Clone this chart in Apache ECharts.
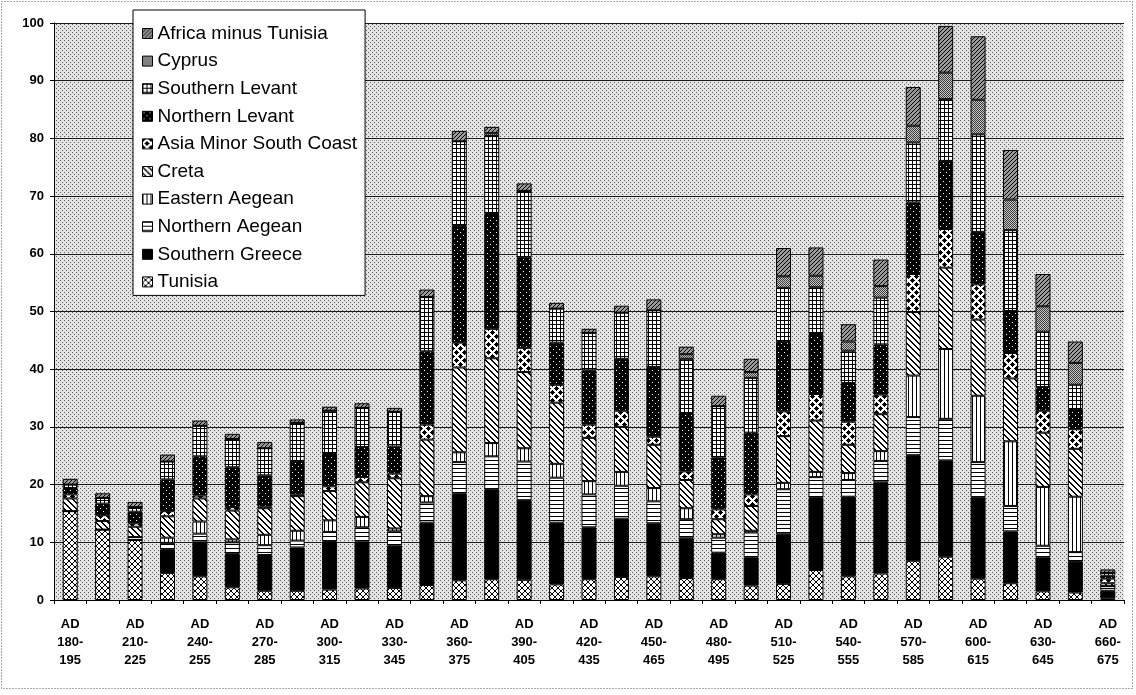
<!DOCTYPE html>
<html><head><meta charset="utf-8">
<script src="https://cdn.jsdelivr.net/npm/echarts/dist/echarts.min.js"></script>
<style>html,body{margin:0;padding:0;background:#fff}#c{width:1136px;height:695px}</style>
</head><body><div id="c"></div>
<script>
const categories = ['AD 180-195','AD 195-210','AD 210-225','AD 225-240','AD 240-255','AD 255-270','AD 270-285','AD 285-300','AD 300-315','AD 315-330','AD 330-345','AD 345-360','AD 360-375','AD 375-390','AD 390-405','AD 405-420','AD 420-435','AD 435-450','AD 450-465','AD 465-480','AD 480-495','AD 495-510','AD 510-525','AD 525-540','AD 540-555','AD 555-570','AD 570-585','AD 585-600','AD 600-615','AD 615-630','AD 630-645','AD 645-660','AD 660-675'];
const yTicks = [0,10,20,30,40,50,60,70,80,90,100];
const tunisia   = [15.4,12.2,10.4,4.7,4.1,2.2,1.6,1.6,1.8,2.0,2.1,2.6,3.4,3.6,3.5,2.7,3.6,4.0,4.1,3.8,3.6,2.5,2.8,5.2,4.1,4.6,6.8,7.5,3.7,2.9,1.5,1.3,0.3];
const southernGreece = [0,0,0,4.1,5.9,5.8,6.2,7.5,8.4,8.1,7.3,10.8,15.0,15.6,13.8,10.7,9.0,10.1,9.2,6.9,4.6,4.9,8.6,12.5,13.8,15.8,18.3,16.7,14.1,9.0,5.9,5.3,1.3];
const northernAegean = [0,0,0.5,1.1,1.5,2.0,1.7,1.2,1.6,2.5,2.5,3.5,5.5,5.7,6.7,7.8,5.7,5.7,3.8,3.3,2.6,4.3,7.8,3.6,2.9,3.7,6.6,7.2,6.1,4.4,2.0,1.7,0.8];
const easternAegean = [0,0,0,0.9,2.1,0.5,1.8,1.7,2.0,1.8,0.5,1.1,1.7,2.3,2.3,2.4,2.3,2.4,2.3,1.9,0.6,0.3,1.1,0.9,1.2,1.7,7.2,12.1,11.5,11.2,10.2,9.6,0];
const creta = [2.2,1.5,1.8,3.7,4.0,5.0,4.6,6.0,5.1,6.0,8.7,9.8,14.7,14.7,13.2,10.6,7.5,7.8,7.5,4.9,2.6,4.3,8.1,8.9,4.9,6.4,11.0,14.1,13.2,10.9,9.4,8.3,0.5];
const asiaMinor = [0.7,1.0,0.6,0.9,0.5,0.6,0.3,0.3,0.8,0.9,0.8,2.6,4.3,5.1,4.2,3.1,2.3,2.8,1.4,1.5,1.7,2.0,4.3,4.6,4.0,3.4,6.6,6.7,6.1,4.4,3.8,3.4,0.8];
const northernLevant = [1.1,2.0,2.0,5.5,6.8,6.9,5.4,5.8,5.6,5.2,4.7,12.7,20.2,19.9,15.7,7.3,9.4,9.0,12.1,10.1,9.0,10.7,12.0,10.4,6.7,8.7,12.4,11.8,9.1,7.3,4.1,3.5,0.5];
const southernLevant = [0.6,1.0,0.8,3.1,5.3,4.9,4.7,6.6,7.5,6.8,6.0,9.4,14.7,13.5,11.5,5.9,6.5,8.0,9.8,9.4,8.9,9.5,9.4,8.1,5.6,8.1,10.4,10.7,16.9,14.0,9.6,4.2,0.5];
const cyprus = [0,0,0,0,0,0,0,0,0,0,0,0,0,0.5,0,0,0,0,0,0.8,0,1.0,2.0,2.0,1.6,2.0,2.9,4.6,6.0,5.3,4.4,3.8,0];
const africaMinusTunisia = [1.0,0.8,0.9,1.2,0.9,0.9,1.1,0.6,0.7,0.8,0.7,1.3,1.8,1.1,1.3,1.0,0.7,1.2,1.9,1.3,1.8,2.3,4.9,4.9,3.0,4.6,6.7,8.1,11.0,8.6,5.6,3.7,0.6];

function pat(w, h, bg, fg, pts) {
  const c = document.createElement('canvas'); c.width = w; c.height = h;
  const g = c.getContext('2d');
  g.fillStyle = bg; g.fillRect(0, 0, w, h);
  g.fillStyle = fg;
  pts.forEach(p => g.fillRect(p[0], p[1], 1, 1));
  return { image: c, repeat: 'repeat' };
}
function range(n){ return Array.from({length:n}, (_, i) => i); }
const P = {
  tunisia: pat(6,6,'#fff','#000', range(6).flatMap(i => [[i,i],[i,5-i]])),
  sg: '#000',
  na: pat(4,4,'#fff','#000', range(4).map(i => [i,0])),
  ea: pat(4,4,'#fff','#000', range(4).map(i => [0,i])),
  creta: pat(6,6,'#fff','#000', range(6).flatMap(i => [[i,i],[i,(i+1)%6]])),
  amsc: pat(8,8,'#fff','#000', [[4,2],[3,3],[4,3],[5,3],[2,4],[3,4],[4,4],[5,4],[6,4],[3,5],[4,5],[5,5],[4,6],
        [0,6],[7,7],[0,7],[1,7],[6,0],[7,0],[0,0],[1,0],[2,0],[7,1],[0,1],[1,1],[0,2]]),
  nl: pat(6,6,'#000','#fff', [[1,1],[4,4]]),
  sl: pat(4,4,'#fff','#000', [[0,0],[1,0],[2,0],[3,0],[0,1],[0,2],[0,3]]),
  cyprus: pat(2,2,'#c8c8c8','#3a3a3a', [[0,0],[1,1]]),
  africa: pat(4,4,'#9a9a9a','#000', range(4).map(i => [i,3-i]))
};
const bgPat = pat(4,4,'#e4e4e4','#5a5a5a', [[0,0],[2,2]]);

const seriesDefs = [
  ['Tunisia', tunisia, P.tunisia],
  ['Southern Greece', southernGreece, P.sg],
  ['Northern Aegean', northernAegean, P.na],
  ['Eastern Aegean', easternAegean, P.ea],
  ['Creta', creta, P.creta],
  ['Asia Minor South Coast', asiaMinor, P.amsc],
  ['Northern Levant', northernLevant, P.nl],
  ['Southern Levant', southernLevant, P.sl],
  ['Cyprus', cyprus, P.cyprus],
  ['Africa minus Tunisia', africaMinusTunisia, P.africa]
];

const chart = echarts.init(document.getElementById('c'), null, {renderer: 'canvas'});
const font = '"Liberation Sans", Arial, sans-serif';
chart.setOption({
  animation: false,
  backgroundColor: '#fff',
  textStyle: { fontFamily: font },
  grid: { left: 54, right: 12, top: 23, bottom: 95, show: true, backgroundColor: bgPat, borderWidth: 0, containLabel: false, outerBoundsMode: 'none' },
  legend: {
    orient: 'vertical', left: 133, top: 10,
    data: seriesDefs.map(d => d[0]).slice().reverse(),
    backgroundColor: '#fff', borderColor: '#000', borderWidth: 1,
    padding: [14, 8, 4, 9], itemGap: 8.6, itemWidth: 10, itemHeight: 10,
    icon: 'rect', selectedMode: false,
    textStyle: { fontSize: 19, lineHeight: 17.5, color: '#000', fontFamily: font, padding: [0,0,0,0] },
    itemStyle: { borderColor: '#000', borderWidth: 1 }
  },
  xAxis: {
    type: 'category', data: categories,
    axisLine: { lineStyle: { color: '#000', width: 1 } },
    axisTick: { show: true, interval: 0, length: 4, lineStyle: { color: '#000' } },
    axisLabel: {
      interval: 1, color: '#000', fontWeight: 'bold', fontSize: 13, lineHeight: 18, margin: 15,
      fontFamily: font,
      formatter: v => v.replace(' ', '\n').replace('-', '-\n')
    },
    splitLine: { show: false }
  },
  yAxis: {
    type: 'value', min: yTicks[0], max: yTicks[yTicks.length - 1], interval: 10,
    axisLine: { show: true, lineStyle: { color: '#000' } },
    axisTick: { show: true, length: 4, lineStyle: { color: '#000' } },
    axisLabel: { color: '#000', fontWeight: 'bold', fontSize: 13, margin: 10, fontFamily: font },
    splitLine: { show: true, lineStyle: { color: '#1a1a1a', width: 1 } }
  },
  graphic: [{
    type: 'rect', shape: { x: 1.5, y: 1.5, width: 1131, height: 687 },
    style: { fill: 'none', stroke: '#555', lineWidth: 1, lineDash: [1, 2] }, silent: true, z: -1
  }],
  series: seriesDefs.map(d => ({
    name: d[0], type: 'bar', stack: 'all', data: d[1], barWidth: 15,
    itemStyle: { color: d[2], borderColor: '#000', borderWidth: 1 },
    emphasis: { disabled: true }
  }))
});
</script></body></html>
